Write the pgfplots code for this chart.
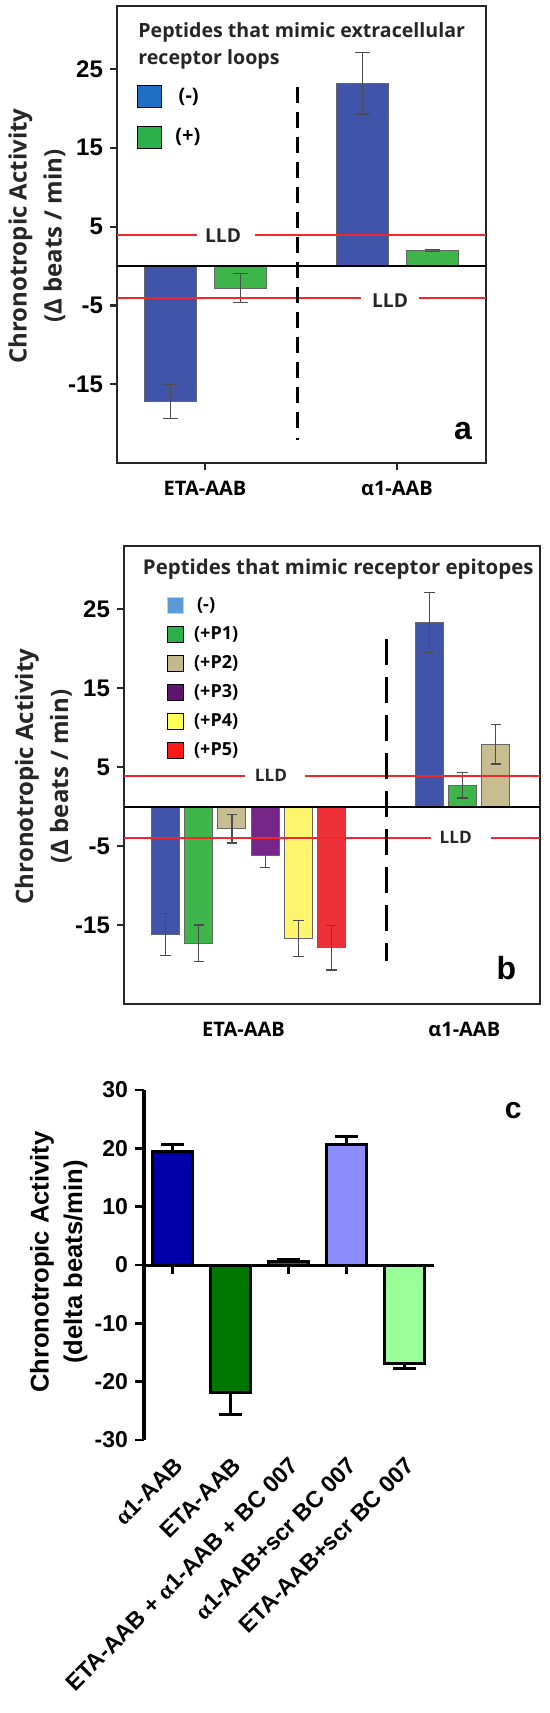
\documentclass[border=0pt]{standalone}
\usepackage{pgfplots}
\pgfplotsset{compat=1.18}
\usepackage{fontspec}
\setmainfont{Open Sans}
\newfontfamily\arial{Liberation Sans}
\newfontfamily\tnr{Liberation Serif}
\definecolor{barblue}{HTML}{4054AA}
\definecolor{bargreen}{HTML}{3DB54A}
\definecolor{legblue}{HTML}{1F6FC5}
\definecolor{leggreen}{HTML}{2BB04A}
\definecolor{lbblue}{HTML}{5B9BD5}
\definecolor{tanb}{HTML}{C8BD90}
\definecolor{purp}{HTML}{762686}
\definecolor{yel}{HTML}{FFF46E}
\definecolor{redb}{HTML}{EE3038}
\definecolor{legtan}{HTML}{C4B88E}
\definecolor{legpurp}{HTML}{5E1470}
\definecolor{legyel}{HTML}{FFFF55}
\definecolor{legred}{HTML}{FF1A1A}
\definecolor{lldred}{HTML}{F0282D}
\definecolor{cblue}{HTML}{0000AA}
\definecolor{cgreen}{HTML}{007800}
\definecolor{clav}{HTML}{8C8CFF}
\definecolor{clgreen}{HTML}{99FF99}
\pgfplotsset{
  abbar/.style={ybar, bar shift=0pt, draw=black!60, line width=0.5pt,
    error bars/y dir=both, error bars/y explicit,
    error bars/error bar style={line width=0.6pt, black!70},
    error bars/error mark options={rotate=90, line width=0.6pt, black!70, mark size=#1}},
  cbar/.style={ybar, bar width=20pt, bar shift=0pt, draw=black, line width=1.5pt,
    error bars/y explicit,
    error bars/error bar style={line width=1.5pt, black},
    error bars/error mark options={rotate=90, line width=1.5pt, black, mark size=5.75pt}},
}
\begin{document}
\begin{tikzpicture}
\useasboundingbox (0pt,0pt) rectangle (275pt,-856.5pt);
% ---------------- panel a ----------------
\begin{axis}[
  at={(58.5pt,-3pt)}, anchor=north west, scale only axis,
  width=184.5pt, height=228.5pt,
  xmin=-0.4583, xmax=1.4635, ymin=-25, ymax=33,
  clip=false,
  axis line style={line width=1.3pt, black!85},
  xtick={0,1}, xticklabels={ETA-AAB, α1-AAB},
  ytick={-15,-5,5,15,25},
  tick pos=left, tick align=outside, major tick length=3.5pt,
  tick style={line width=1.1pt, black!85},
  xticklabel style={font=\fontsize{10}{12}\selectfont\bfseries, yshift=-2pt},
  yticklabel style={font=\arial\fontsize{12}{13}\selectfont\bfseries},
  /pgf/number format/assume math mode=true,
  legend style={at={(axis description cs:0.052,0.83)}, anchor=north west,
    draw=none, fill=none, inner sep=0pt, row sep=7.5pt,
    font=\fontsize{10}{12}\selectfont\bfseries,
    /tikz/every odd column/.append style={column sep=5pt}},
  legend cell align=left,
  legend image code/.code={\fill[#1] (0pt,-5.5pt) rectangle (12pt,5.5pt);},
]
\addlegendimage{fill=legblue}
\addlegendentry{\,(-)}
\addlegendimage{fill=leggreen}
\addlegendentry{(+)}
\addplot[abbar=3.75pt, bar width=26pt, fill=barblue, forget plot]
  coordinates {(-0.18,-17.2) +- (0,2.2) (0.82,23.2) +- (0,3.9)};
\addplot[abbar=3.75pt, bar width=26pt, fill=bargreen, forget plot]
  coordinates {(0.185,-2.8) +- (0,1.8) (1.185,1.95) +- (0,0.1)};
\addplot[black, line width=1pt, forget plot] coordinates {(-0.4583,0) (1.4635,0)};
\addplot[lldred, line width=1pt, forget plot] coordinates {(-0.4583,3.9) (-0.044,3.9)};
\addplot[lldred, line width=1pt, forget plot] coordinates {(0.258,3.9) (1.4635,3.9)};
\addplot[lldred, line width=1pt, forget plot] coordinates {(-0.4583,-4.0) (0.815,-4.0)};
\addplot[lldred, line width=1pt, forget plot] coordinates {(1.115,-4.0) (1.4635,-4.0)};
\addplot[black, line width=1.6pt, dash pattern=on 8pt off 4.5pt, forget plot]
  coordinates {(0.482,22.7) (0.482,-20.5)};
\addplot[black, line width=1.2pt, forget plot] coordinates {(0.482,-21.8) (0.482,-22.1)};
\node[font=\fontsize{9.6}{11}\selectfont\bfseries, text=black!85] at (axis cs:0.094,3.9) {LLD};
\node[font=\fontsize{9.6}{11}\selectfont\bfseries, text=black!85] at (axis cs:0.964,-4.4) {LLD};
\node[anchor=north west, align=left, inner sep=0pt, text=black!85,
  font=\fontsize{9.8}{13.5}\selectfont\bfseries] at (axis cs:-0.349,31.0)
  {Peptides that mimic extracellular\\receptor loops};
\node[font=\arial\bfseries\fontsize{16}{16}\selectfont] at (axis cs:1.344,-20.9) {a};
\node[rotate=90, align=center, font=\fontsize{12}{17.5}\selectfont\bfseries, text=black!85]
  at (axis cs:-0.875,3.8) {Chronotropic Activity\\(Δ beats / min)};
\end{axis}
% ---------------- panel b ----------------
\begin{axis}[
  at={(62pt,-273pt)}, anchor=north west, scale only axis,
  width=208pt, height=229pt,
  xmin=-1.25, xmax=11.28, ymin=-25, ymax=33,
  clip=false,
  axis line style={line width=1.3pt, black!85},
  xtick={2.35,9.0}, xticklabels={ETA-AAB, α1-AAB},
  ytick={-15,-5,5,15,25},
  tick pos=left, tick align=outside, major tick length=3.5pt,
  x tick style={draw=none},
  y tick style={line width=1.1pt, black!85},
  xticklabel style={font=\fontsize{10}{12}\selectfont\bfseries, yshift=-2pt},
  yticklabel style={font=\arial\fontsize{12}{13}\selectfont\bfseries},
  /pgf/number format/assume math mode=true,
  legend style={at={(axis description cs:0.102,0.897)}, anchor=north west,
    draw=none, fill=none, inner sep=0pt, row sep=2.5pt,
    font=\fontsize{9}{11}\selectfont\bfseries,
    /tikz/every odd column/.append style={column sep=3pt}},
  legend cell align=left,
  legend image code/.code={\fill[#1] (0pt,-4.1pt) rectangle (8.25pt,4.1pt);},
]
\addlegendimage{fill=lbblue, draw=black!20}
\addlegendentry{\,(-)}
\addlegendimage{fill=leggreen}
\addlegendentry{(+P1)}
\addlegendimage{fill=legtan}
\addlegendentry{(+P2)}
\addlegendimage{fill=legpurp}
\addlegendentry{(+P3)}
\addlegendimage{fill=legyel}
\addlegendentry{(+P4)}
\addlegendimage{fill=legred}
\addlegendentry{(+P5)}
\addplot[abbar=2.6pt, bar width=14pt, fill=barblue, forget plot]
  coordinates {(0,-16.2) +- (0,2.65) (7.95,23.3) +- (0,3.8)};
\addplot[abbar=2.6pt, bar width=14pt, fill=bargreen, forget plot]
  coordinates {(1,-17.3) +- (0,2.3) (8.95,2.7) +- (0,1.6)};
\addplot[abbar=2.6pt, bar width=14pt, fill=tanb, forget plot]
  coordinates {(2,-2.8) +- (0,1.8) (9.95,7.9) +- (0,2.5)};
\addplot[abbar=2.6pt, bar width=14pt, fill=purp, forget plot]
  coordinates {(3,-6.2) +- (0,1.5)};
\addplot[abbar=2.6pt, bar width=14pt, fill=yel, forget plot]
  coordinates {(4,-16.7) +- (0,2.3)};
\addplot[abbar=2.6pt, bar width=14pt, fill=redb, forget plot]
  coordinates {(5,-17.9) +- (0,2.8)};
\addplot[black, line width=1pt, forget plot] coordinates {(-1.25,0) (11.28,0)};
\addplot[lldred, line width=1pt, forget plot] coordinates {(-1.25,3.9) (2.38,3.9)};
\addplot[lldred, line width=1pt, forget plot] coordinates {(4.21,3.9) (11.28,3.9)};
\addplot[lldred, line width=1pt, forget plot] coordinates {(-1.25,-4.0) (8.0,-4.0)};
\addplot[lldred, line width=1pt, forget plot] coordinates {(9.8,-4.0) (11.28,-4.0)};
\addplot[black, line width=1.6pt, dash pattern=on 13pt off 6pt, forget plot]
  coordinates {(6.65,21.2) (6.65,-19.6)};
\node[font=\fontsize{8.6}{10}\selectfont\bfseries, text=black!85] at (axis cs:3.18,3.9) {LLD};
\node[font=\fontsize{8.6}{10}\selectfont\bfseries, text=black!85] at (axis cs:8.74,-3.9) {LLD};
\node[anchor=north west, inner sep=0pt, text=black!85,
  font=\fontsize{10.2}{13.5}\selectfont\bfseries] at (axis cs:-0.69,31.4)
  {Peptides that mimic receptor epitopes};
\node[font=\arial\bfseries\fontsize{16}{16}\selectfont] at (axis cs:10.27,-20.4) {b};
\node[rotate=90, align=center, font=\fontsize{12}{17.5}\selectfont\bfseries, text=black!85]
  at (axis cs:-3.68,3.8) {Chronotropic Activity\\(Δ beats / min)};
\end{axis}
% ---------------- panel c ----------------
\begin{axis}[
  at={(72pt,-545pt)}, anchor=north west, scale only axis,
  width=145pt, height=175pt,
  xmin=-0.496, xmax=4.513, ymin=-30, ymax=30,
  clip=false,
  axis x line*=middle, axis y line*=left,
  axis line style={line width=1.5pt, black},
  xtick={0,1,2,3,4},
  xticklabels={{{\tnr α}1-AAB}, {ETA-AAB}, {ETA-AAB + {\tnr α}1-AAB + BC 007},
    {{\tnr α}1-AAB+scr BC 007}, {ETA-AAB+scr BC 007}},
  ytick={-30,-20,-10,0,10,20,30},
  tick align=outside, major tick length=4.5pt,
  tick style={line width=1.3pt, black},
  xticklabel shift=86pt,
  xticklabel style={font=\arial\bfseries\fontsize{11.6}{13}\selectfont,
    rotate=45, anchor=north east},
  yticklabel style={font=\arial\fontsize{11.5}{12}\selectfont\bfseries},
  /pgf/number format/assume math mode=true,
]
\addplot[cbar, fill=cblue, error bars/y dir=plus] coordinates {(0,19.5) +- (0,1.15)};
\addplot[cbar, fill=cgreen, error bars/y dir=minus] coordinates {(1,-21.9) +- (0,3.7)};
\addplot[cbar, fill=black!70, error bars/y dir=plus] coordinates {(2,0.6) +- (0,0.3)};
\addplot[cbar, fill=clav, error bars/y dir=plus] coordinates {(3,20.6) +- (0,1.4)};
\addplot[cbar, fill=clgreen, error bars/y dir=minus] coordinates {(4,-16.9) +- (0,0.9)};
\node[font=\arial\bfseries\fontsize{15}{15}\selectfont] at (axis cs:5.88,26.4) {c};
\node[rotate=90, align=center, font=\arial\fontsize{12.8}{16.7}\selectfont\bfseries]
  at (axis cs:-1.969,0.5) {Chronotropic Activity\\(delta beats/min)};
\end{axis}
\end{tikzpicture}
\end{document}
